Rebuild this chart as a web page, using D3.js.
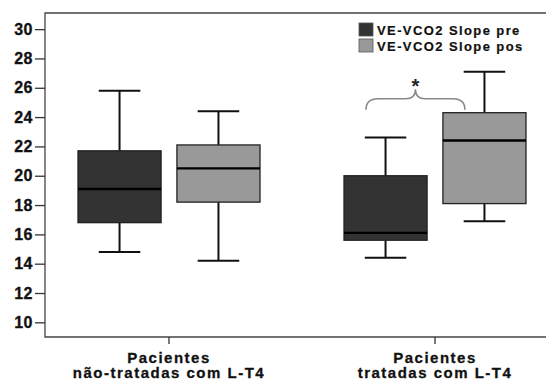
<!DOCTYPE html>
<html>
<head>
<meta charset="utf-8">
<script src="https://cdn.jsdelivr.net/npm/d3@7"></script>
<style>
body { margin:0; background:#fff; }
text { font-family: Arial, "Liberation Sans", sans-serif; font-weight:bold; }
</style>
</head>
<body>
<svg width="546" height="380"></svg>
<script>
// data
var categories = ["Pacientes\nnão-tratadas com L-T4", "Pacientes\ntratadas com L-T4"];
var series = ["VE-VCO2 Slope pre", "VE-VCO2 Slope pos"];
var colors = ["#333333", "#999999"];
// box stats per series, one value per category
var preLow = [14.8, 14.4], preQ1 = [16.8, 15.6], preMed = [19.1, 16.1], preQ3 = [21.7, 20.0], preHigh = [25.8, 22.6];
var posLow = [14.2, 16.9], posQ1 = [18.2, 18.1], posMed = [20.5, 22.4], posQ3 = [22.1, 24.3], posHigh = [24.4, 27.1];
var yTicks = [10, 12, 14, 16, 18, 20, 22, 24, 26, 28, 30];

var boxes = [];
categories.forEach(function(c, i) {
  boxes.push({cat:c, s:series[0], low:preLow[i], q1:preQ1[i], med:preMed[i], q3:preQ3[i], high:preHigh[i]});
  boxes.push({cat:c, s:series[1], low:posLow[i], q1:posQ1[i], med:posMed[i], q3:posQ3[i], high:posHigh[i]});
});

var svg = d3.select("svg");
var mLeft = 45, mTop = 13, mBottom = 337;

var y = d3.scaleLinear().domain([9, 31.1]).range([mBottom, mTop]);
var x = d3.scaleBand().domain(categories).range([36, 568]);
var xs = d3.scaleBand().domain(series).range([-91, 91]).paddingInner(0.16);
var color = d3.scaleOrdinal().domain(series).range(colors);

// frame
svg.append("path")
  .attr("d", "M" + 547 + "," + mTop + "H" + mLeft + "V" + mBottom + "H" + 547)
  .attr("fill", "none").attr("stroke", "#444").attr("stroke-width", 1.3);

// y axis
var yAxis = svg.append("g").attr("transform", "translate(" + mLeft + ",0)")
  .call(d3.axisLeft(y).tickValues(yTicks).tickSize(10).tickPadding(2));
yAxis.select(".domain").remove();
yAxis.selectAll("line").attr("stroke", "#333").attr("stroke-width", 1.3);
yAxis.selectAll("text").attr("font-size", 16).attr("fill", "#111")
  .attr("font-family", "Arial, 'Liberation Sans', sans-serif")
  .attr("stroke", "#111").attr("stroke-width", 0.3)
  .style("letter-spacing", "0.5px");

// x ticks
svg.selectAll(".xt").data(categories).enter().append("line")
  .attr("x1", function(d) { return x(d) + x.bandwidth() / 2; })
  .attr("x2", function(d) { return x(d) + x.bandwidth() / 2; })
  .attr("y1", mBottom).attr("y2", mBottom + 7)
  .attr("stroke", "#333").attr("stroke-width", 1.3);

// category labels, one text per line
categories.forEach(function(d) {
  d.split("\n").forEach(function(line, k) {
    svg.append("text")
      .attr("x", x(d) + x.bandwidth() / 2).attr("y", 363 + k * 15)
      .attr("text-anchor", "middle").attr("font-size", 15).attr("fill", "#111")
      .attr("stroke", "#111").attr("stroke-width", 0.3)
      .style("letter-spacing", "1.5px").text(line);
  });
});

// boxes
var g = svg.selectAll(".box").data(boxes).enter().append("g")
  .attr("transform", function(d) { return "translate(" + (x(d.cat) + x.bandwidth() / 2 + xs(d.s)) + ",0)"; });
var bw = xs.bandwidth();

g.append("line").attr("x1", bw / 2).attr("x2", bw / 2)
  .attr("y1", function(d) { return y(d.high); }).attr("y2", function(d) { return y(d.q3); })
  .attr("stroke", "#111").attr("stroke-width", 2);
g.append("line").attr("x1", bw / 2).attr("x2", bw / 2)
  .attr("y1", function(d) { return y(d.q1); }).attr("y2", function(d) { return y(d.low); })
  .attr("stroke", "#111").attr("stroke-width", 2);
g.append("line").attr("x1", bw / 4).attr("x2", bw * 3 / 4)
  .attr("y1", function(d) { return y(d.high); }).attr("y2", function(d) { return y(d.high); })
  .attr("stroke", "#111").attr("stroke-width", 2);
g.append("line").attr("x1", bw / 4).attr("x2", bw * 3 / 4)
  .attr("y1", function(d) { return y(d.low); }).attr("y2", function(d) { return y(d.low); })
  .attr("stroke", "#111").attr("stroke-width", 2);
g.append("rect").attr("x", 0).attr("width", bw)
  .attr("y", function(d) { return y(d.q3); })
  .attr("height", function(d) { return y(d.q1) - y(d.q3); })
  .attr("fill", function(d) { return color(d.s); })
  .attr("stroke", "#222").attr("stroke-width", 1.3);
g.append("line").attr("x1", 0).attr("x2", bw)
  .attr("y1", function(d) { return y(d.med); }).attr("y2", function(d) { return y(d.med); })
  .attr("stroke", "#000").attr("stroke-width", 2.4);

// significance bracket over the treated group
var c2 = x(categories[1]) + x.bandwidth() / 2;
var bx0 = c2 + xs(series[0]) + 22, bx1 = c2 + xs(series[1]) + 22;
var bm = (bx0 + bx1) / 2, by = y(24.5), bh = y(25.25), bp = y(25.9);
svg.append("path")
  .attr("d", "M" + bx0 + "," + by + "Q" + bx0 + "," + bh + " " + (bx0 + 12) + "," + bh +
    "H" + (bm - 10) + "Q" + bm + "," + bh + " " + bm + "," + bp +
    "Q" + bm + "," + bh + " " + (bm + 10) + "," + bh +
    "H" + (bx1 - 12) + "Q" + bx1 + "," + bh + " " + bx1 + "," + by)
  .attr("fill", "none").attr("stroke", "#888").attr("stroke-width", 1.5);
svg.append("text").attr("x", bm).attr("y", bp + 4).attr("text-anchor", "middle")
  .attr("font-size", 20).attr("fill", "#222").text("*");

// legend
var lg = svg.selectAll(".lg").data(series).enter().append("g")
  .attr("transform", function(d, i) { return "translate(359," + (23 + i * 16) + ")"; });
lg.append("rect").attr("width", 14).attr("height", 13)
  .attr("fill", function(d) { return color(d); }).attr("stroke", "#555").attr("stroke-width", 0.8);
lg.append("text").attr("x", 18).attr("y", 12).attr("font-size", 13).attr("fill", "#111")
  .attr("stroke", "#111").attr("stroke-width", 0.2)
  .style("letter-spacing", "1.4px").text(function(d) { return d; });
</script>
</body>
</html>
